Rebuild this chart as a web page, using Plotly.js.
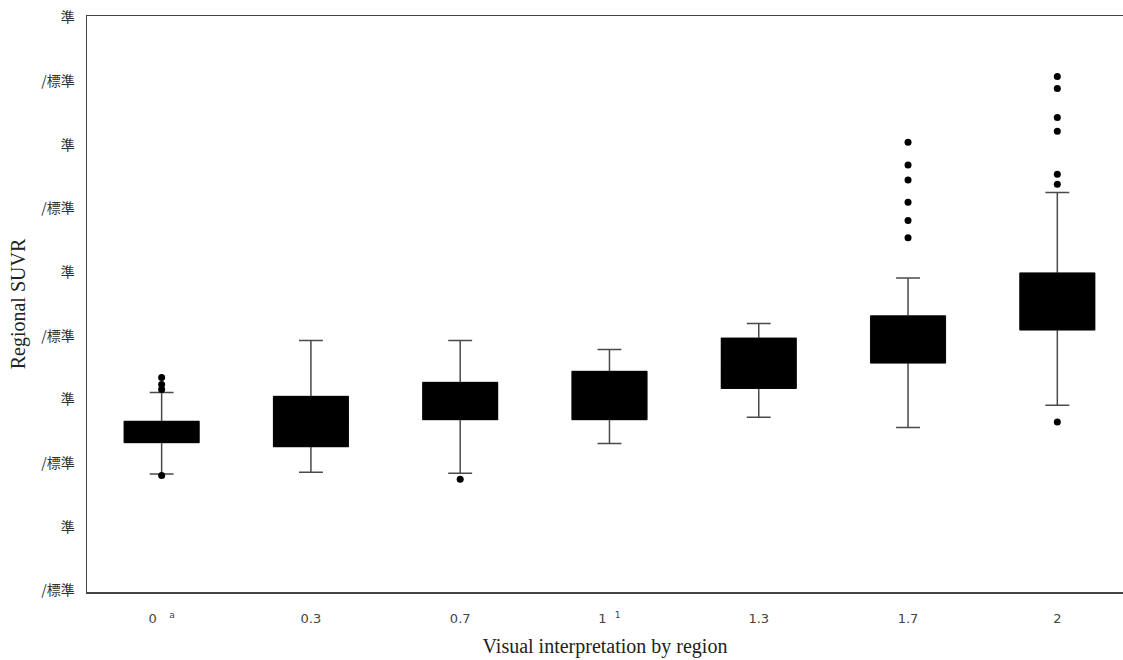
<!DOCTYPE html>
<html>
<head>
<meta charset="utf-8">
<script src="https://cdn.plot.ly/plotly-3.0.1.min.js"></script>
<style>html,body{margin:0;padding:0;background:#fff;overflow:hidden;}</style>
</head>
<body>
<div id="chart" style="width:1123px;height:660px;"></div>
<script>
// Categories (visual interpretation by region)
const categories = ["0", "0.3", "0.7", "1", "1.3", "1.7", "2"];
const categoryLabels = ["0   <sup>a</sup>", "0.3", "0.7", "1  <sup>1</sup>", "1.3", "1.7", "2"];

// Box statistics (regional SUVR)
const lowerFence = [0.966, 0.971, 0.968, 1.062, 1.144, 1.112, 1.182];
const q1         = [1.065, 1.052, 1.137, 1.137, 1.235, 1.315, 1.419];
const median     = [1.098, 1.130, 1.195, 1.212, 1.313, 1.388, 1.508];
const q3         = [1.131, 1.209, 1.253, 1.288, 1.392, 1.462, 1.597];
const upperFence = [1.222, 1.385, 1.385, 1.357, 1.439, 1.582, 1.850];

// Outliers
const outlierX = ["0", "0", "0", "0",
                  "0.7",
                  "1.7", "1.7", "1.7", "1.7", "1.7", "1.7",
                  "2", "2", "2", "2", "2", "2", "2"];
const outlierY = [1.269, 1.247, 1.231, 0.961,
                  0.949,
                  2.008, 1.937, 1.890, 1.820, 1.762, 1.708,
                  2.215, 2.177, 2.086, 2.043, 1.908, 1.876, 1.129];

// Y tick values and (garbled) labels as they appear
const yTickVals = [0.6, 0.8, 1.0, 1.2, 1.4, 1.6, 1.8, 2.0, 2.2, 2.4];
const yTickText = ["/標準", "準", "/標準", "準", "/標準", "準", "/標準", "準", "/標準", "準"];

// Whiskers (grey lines)
const whiskerTrace = {
  type: "box",
  x: categories,
  q1: q1,
  median: median,
  q3: q3,
  lowerfence: lowerFence,
  upperfence: upperFence,
  fillcolor: "#000000",
  line: {color: "#4a4a4a", width: 1.5},
  width: 0.5,
  whiskerwidth: 0.32,
  boxpoints: false,
  hoverinfo: "skip",
  showlegend: false
};

// Solid black body drawn on top (hides the median line, as in the picture)
const bodyTrace = {
  type: "box",
  x: categories,
  q1: q1,
  median: median,
  q3: q3,
  lowerfence: q1,
  upperfence: q3,
  fillcolor: "#000000",
  line: {color: "#000000", width: 1},
  width: 0.5,
  whiskerwidth: 0,
  boxpoints: false,
  hoverinfo: "skip",
  showlegend: false
};

const outlierTrace = {
  type: "scatter",
  mode: "markers",
  x: outlierX,
  y: outlierY,
  marker: {color: "#000000", size: 7},
  hoverinfo: "skip",
  showlegend: false
};

const layout = {
  width: 1123,
  height: 660,
  margin: {l: 87, r: 0, t: 16, b: 68},
  paper_bgcolor: "#ffffff",
  plot_bgcolor: "#ffffff",
  showlegend: false,
  boxmode: "overlay",
  xaxis: {
    type: "category",
    categoryorder: "array",
    categoryarray: categories,
    range: [-0.5, 6.44],
    tickmode: "array",
    tickvals: categories,
    ticktext: categoryLabels,
    showgrid: false,
    zeroline: false,
    showline: true,
    mirror: true,
    linecolor: "#444444",
    linewidth: 1.5,
    ticks: "",
    ticklabelstandoff: 14,
    tickfont: {family: "DejaVu Sans, sans-serif", size: 13, color: "#444444"},
    title: {
      text: "Visual interpretation by region",
      font: {family: "Liberation Serif, serif", size: 20, color: "#222222"},
      standoff: 14
    }
  },
  yaxis: {
    range: [0.595, 2.405],
    tickmode: "array",
    tickvals: yTickVals,
    ticktext: yTickText,
    showgrid: false,
    zeroline: false,
    showline: true,
    linecolor: "#444444",
    linewidth: 1.5,
    ticks: "",
    ticklabelstandoff: 8,
    tickfont: {family: "Noto Sans CJK JP, sans-serif", size: 14, color: "#333333"},
    title: {
      text: "Regional SUVR",
      font: {family: "Liberation Serif, serif", size: 20, color: "#222222"},
      standoff: 10
    }
  }
};

Plotly.newPlot("chart", [whiskerTrace, bodyTrace, outlierTrace], layout, {displayModeBar: false, staticPlot: true});
</script>
</body>
</html>
